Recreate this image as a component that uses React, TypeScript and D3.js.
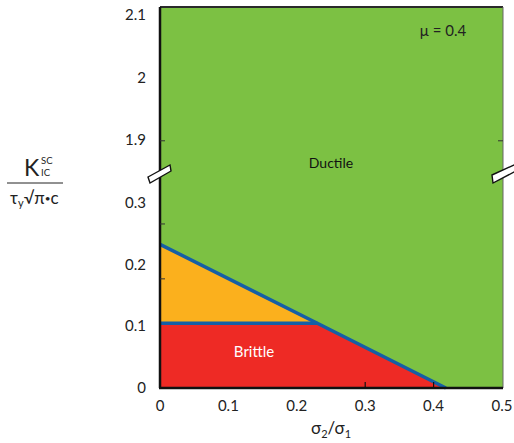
import React from 'react';
import * as d3 from 'd3';

// boundary points (sigma2/sigma1, normalised K)
const ductileLine = [
  [0, 0.233],
  [0.23, 0.105],
  [0.418, 0],
];
const brittleTop = [
  [0, 0.105],
  [0.23, 0.105],
];
const xTicks = [0, 0.1, 0.2, 0.3, 0.4, 0.5];
const yTicksLow = [0, 0.1, 0.2, 0.3];
const yTicksHigh = [1.9, 2, 2.1];
const yTickLabels = ['0', '0.1', '0.2', '0.3', '1.9', '2', '2.1'];
const xInnerTicks = [0.3, 0.4];
const yInnerTicks = [0.177, 0.266, 1.88];

const W = 514;
const H = 443;
const font = 'Lato, "Open Sans", sans-serif';

const App = () => {
  const x = d3.scaleLinear().domain([0, 0.5]).range([160, 502]);
  // broken axis: two linear pieces
  const y = d3
    .scaleLinear()
    .domain([0, 0.3, 1.9, 2.113])
    .range([388, 203, 140, 7]);

  const left = x(0);
  const right = 503;
  const top = y(2.113);
  const bottom = y(0);

  const line = d3
    .line<number[]>()
    .x((d) => x(d[0]))
    .y((d) => y(d[1]));

  const orange = [
    [0, ductileLine[0][1]],
    ductileLine[1],
    [0, brittleTop[0][1]],
  ];
  const red = [
    [0, 0],
    [0, brittleTop[0][1]],
    ductileLine[1],
    ductileLine[2],
  ];

  const yTickVals = [...yTicksLow, ...yTicksHigh];

  return (
    <svg
      width={W}
      height={H}
      style={{ position: 'absolute', left: 0, top: 0, background: '#fff' }}
      fontFamily={font}
    >
      <rect x={left} y={top} width={right - left} height={bottom - top} fill="#7cc143" />
      <path d={line(orange as any) + 'Z'} fill="#fbb01d" />
      <path d={line(red as any) + 'Z'} fill="#ee2a25" />
      <path d={line(brittleTop as any) ?? ''} fill="none" stroke="#155fa6" strokeWidth={3.5} />
      <path d={line(ductileLine as any) ?? ''} fill="none" stroke="#155fa6" strokeWidth={3.5} />

      {/* frame */}
      <line x1={left} x2={right} y1={top} y2={top} stroke="#2a2a2a" strokeWidth={2} />
      <line x1={right} x2={right} y1={top} y2={bottom} stroke="#666" strokeWidth={1} />
      <line x1={left} x2={left} y1={top} y2={bottom} stroke="#111" strokeWidth={2.5} />
      <line x1={left - 1} x2={right} y1={bottom} y2={bottom} stroke="#111" strokeWidth={2.5} />

      {xInnerTicks.map((t) => (
        <line key={t} x1={x(t)} x2={x(t)} y1={bottom} y2={bottom - 6} stroke="#111" strokeWidth={1.2} />
      ))}
      {yInnerTicks.map((t) => (
        <line key={t} x1={left} x2={left + 5} y1={y(t)} y2={y(t)} stroke="#333" strokeWidth={1} />
      ))}
      <line x1={right} x2={right - 5} y1={y(1.88)} y2={y(1.88)} stroke="#333" strokeWidth={1} />

      {/* axis break marks */}
      <path d="M148,177 L170,165 L171,171 L150,183 Z" fill="#fff" stroke="#111" strokeWidth={1.4} />
      <path d="M492,175 L516,164 L516,171 L493,183 Z" fill="#fff" stroke="#111" strokeWidth={1.4} />

      {xTicks.map((t) => (
        <text key={t} x={x(t)} y={411} textAnchor="middle" fontSize={15} fill="#222">
          {t === 0 ? '0' : String(t)}
        </text>
      ))}
      {yTickVals.map((t, i) => (
        <text key={t} x={146} y={y(t) + 5} textAnchor="end" fontSize={15} fill="#222">
          {yTickLabels[i]}
        </text>
      ))}

      <text x={331} y={434} textAnchor="middle" fontSize={17} fill="#222">
        σ<tspan fontSize={11} dy={4}>2</tspan>
        <tspan dy={-4}>/σ</tspan>
        <tspan fontSize={11} dy={4}>1</tspan>
      </text>

      {/* y axis label */}
      <text x={24} y={176} fontSize={23} fill="#222">K</text>
      <text x={41} y={164} fontSize={9.5} fill="#222">SC</text>
      <text x={41} y={176} fontSize={9.5} fill="#222">IC</text>
      <line x1={7} x2={63} y1={183} y2={183} stroke="#222" strokeWidth={1} />
      <text x={10} y={204} fontSize={17} fill="#222">
        τ<tspan fontSize={11} dy={3}>y</tspan>
        <tspan dy={-3}>√π</tspan>
        <tspan fontSize={10} dy={-2}>•</tspan>
        <tspan dy={2}>c</tspan>
      </text>

      <text x={331} y={168} textAnchor="middle" fontSize={14} fill="#111">Ductile</text>
      <text x={254} y={357} textAnchor="middle" fontSize={15} fill="#fff">Brittle</text>
      <text x={443} y={36} textAnchor="middle" fontSize={15} fill="#222">μ = 0.4</text>
    </svg>
  );
};

export default App;
